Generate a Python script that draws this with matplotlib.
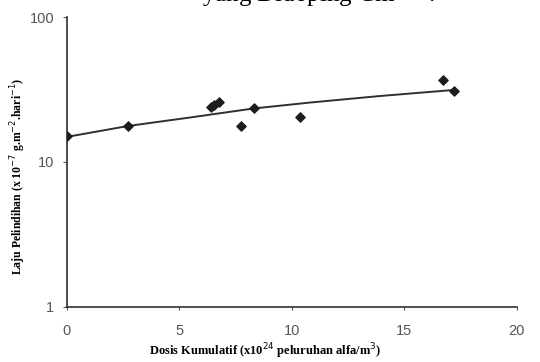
import matplotlib.pyplot as plt
from matplotlib.ticker import FixedLocator, NullLocator

# measured data points (dose x10^24 alpha decays/m3, leach rate)
dose = [0.0, 2.7, 6.4, 6.55, 6.75, 7.75, 8.3, 10.35, 16.7, 17.2]
rate = [15.0, 17.7, 23.8, 24.8, 25.8, 17.7, 23.5, 20.5, 36.5, 30.8]

# trend curve
trend_x = [0.0, 2.7, 5.5, 8.3, 10.8, 13.9, 17.2]
trend_y = [14.9, 17.7, 20.3, 23.4, 25.7, 28.5, 31.4]

x_ticks = [0, 5, 10, 15, 20]
y_ticks = [1, 10, 100]

plt.rcParams['font.family'] = ['Liberation Sans', 'DejaVu Sans']

fig = plt.figure(figsize=(5.4, 3.62), dpi=100)
ax = fig.add_axes([0.124, 0.152, 0.833, 0.801])

ax.plot(trend_x, trend_y, color='#303030', lw=1.4, zorder=2)
ax.scatter(dose, rate, marker='D', s=22, color='#1c1c1c', zorder=3)

ax.set_yscale('log')
ax.set_xlim(0, 20)
ax.set_ylim(1, 100)
ax.xaxis.set_major_locator(FixedLocator(x_ticks))
ax.yaxis.set_major_locator(FixedLocator(y_ticks))
ax.yaxis.set_minor_locator(NullLocator())
ax.set_xticklabels([str(t) for t in x_ticks])
ax.set_yticklabels([str(t) for t in y_ticks])
ax.tick_params(axis='both', labelsize=10.5, colors='#555555', length=3, width=0.8)
ax.tick_params(axis='x', pad=10, length=2)
ax.tick_params(axis='y', pad=6)

for s in ['top', 'right']:
    ax.spines[s].set_visible(False)
for s in ['left', 'bottom']:
    ax.spines[s].set_color('#303030')
    ax.spines[s].set_linewidth(1.2)

ax.set_xlabel('Dosis Kumulatif (x10$^{24}$ peluruhan alfa/m$^3$)',
              family='Liberation Serif', fontweight='bold', fontsize=9)
ax.xaxis.set_label_coords(0.44, -0.12)
ax.set_ylabel('Laju Pelindihan (x 10$^{-7}$ g.m$^{-2}$.hari$^{-1}$)',
              family='Liberation Serif', fontweight='bold', fontsize=8.5)
ax.yaxis.set_label_coords(-0.086, 0.45)

# cropped caption line at the top edge
fig.text(0.59, 1.0 - 3.0 / 362, 'yang Didoping Cm$^{244}$.', family='Liberation Serif',
         fontsize=18, ha='center', va='baseline')

fig.savefig('out.png', dpi=100)
